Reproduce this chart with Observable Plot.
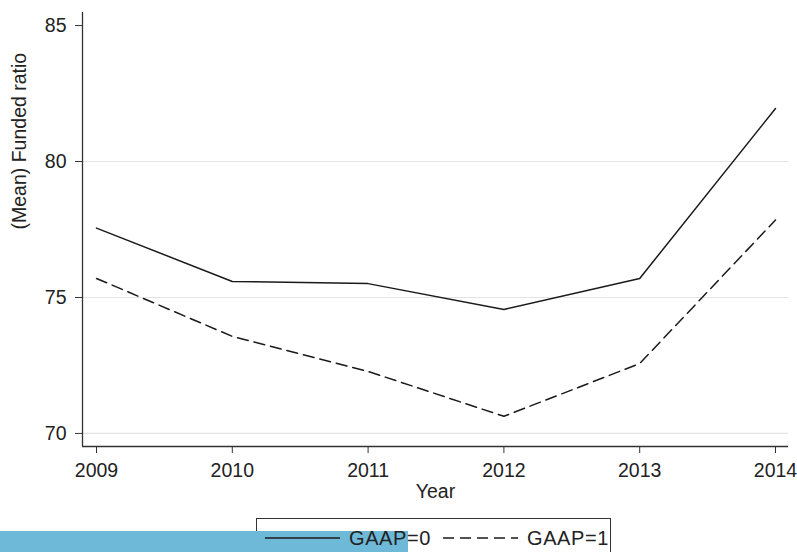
<!DOCTYPE html>
<html>
<head>
<meta charset="utf-8">
<script src="https://cdn.jsdelivr.net/npm/d3@7"></script>
<script src="https://cdn.jsdelivr.net/npm/@observablehq/plot@0.6"></script>
<style>
  body { margin: 0; background: #fff; font-family: "Liberation Sans", Arial, sans-serif; }
  #wrap { position: relative; width: 797px; height: 552px; overflow: hidden; }
  #chart { position: absolute; left: 0; top: 0; }
  #chart svg text { font-size: 19.5px !important; }
  #legbox { position: absolute; left: 256px; top: 518px; width: 355px; height: 60px; border: 1px solid #333; box-sizing: border-box; }
  #bluebar { position: absolute; left: 0; top: 531px; width: 408px; height: 30px; background: #6fb9d8; }
  #legend { position: absolute; left: 256px; top: 518px; width: 355px; height: 40px; font-size: 20px; color: #222; }
  #legend svg { position: absolute; left: 0; top: 0; }
  #legend span { position: absolute; top: 9px; white-space: nowrap; letter-spacing: 0.6px; }
</style>
</head>
<body>
<div id="wrap">
  <div id="chart"></div>
  <div id="legbox"></div>
  <div id="bluebar"></div>
  <div id="legend">
    <svg width="355" height="40">
      <line x1="9" x2="84" y1="20" y2="20" stroke="#1a1a1a" stroke-width="1.5"></line>
      <line x1="187" x2="262" y1="20" y2="20" stroke="#1a1a1a" stroke-width="1.5" stroke-dasharray="11,6"></line>
    </svg>
    <span id="l0" style="left:93px"></span>
    <span id="l1" style="left:271px"></span>
  </div>
</div>
<script>
const years = [2009, 2010, 2011, 2012, 2013, 2014];
const gaap0 = [77.55, 75.59, 75.51, 74.56, 75.70, 81.95];
const gaap1 = [75.70, 73.57, 72.28, 70.63, 72.57, 77.85];
const seriesNames = ["GAAP=0", "GAAP=1"];
const yTicks = [70, 75, 80, 85];
const gridTicks = [70, 75, 80];
const xLabel = "Year";
const yLabel = "(Mean) Funded ratio";

const data = [];
years.forEach((yr, i) => {
  data.push({year: yr, value: gaap0[i], series: seriesNames[0]});
  data.push({year: yr, value: gaap1[i], series: seriesNames[1]});
});

const xDomain = [2009 - 14 / 135.8, 2014 + 13 / 135.8];
const yDomain = [69.52, 85.48];
const fs = 19.5;

const chart = Plot.plot({
  width: 797,
  height: 510,
  marginLeft: 82,
  marginRight: 9,
  marginTop: 12,
  marginBottom: 64,
  style: {fontFamily: "'Liberation Sans', Arial, sans-serif", fontSize: "19.5px", color: "#222", background: "transparent"},
  x: {domain: xDomain, axis: null},
  y: {domain: yDomain, axis: null},
  marks: [
    Plot.ruleY(gridTicks, {stroke: "#e3e3e3", strokeWidth: 1.2}),
    Plot.axisX({ticks: years, tickFormat: d => String(d), tickSize: 7, tickPadding: 10, label: null, stroke: "#333", fontSize: fs, fill: "#222"}),
    Plot.axisY({ticks: yTicks, tickSize: 7, tickPadding: 9, label: null, stroke: "#333", fontSize: fs, fill: "#222"}),
    Plot.ruleY([yDomain[0]], {stroke: "#333", strokeWidth: 1.3}),
    Plot.ruleX([xDomain[0]], {stroke: "#333", strokeWidth: 1.3}),
    Plot.line(data.filter(d => d.series === seriesNames[0]), {x: "year", y: "value", stroke: "#1a1a1a", strokeWidth: 1.5}),
    Plot.line(data.filter(d => d.series === seriesNames[1]), {x: "year", y: "value", stroke: "#1a1a1a", strokeWidth: 1.5, strokeDasharray: "11,6"}),
    Plot.text([xLabel], {frameAnchor: "bottom", dy: 51, text: d => d, fontSize: fs, fill: "#222"}),
    Plot.text([yLabel], {frameAnchor: "left", dx: -63, rotate: -90, text: d => d, fontSize: fs, fill: "#222"})
  ]
});
document.getElementById("chart").appendChild(chart);
document.getElementById("l0").textContent = seriesNames[0];
document.getElementById("l1").textContent = seriesNames[1];
</script>
</body>
</html>
